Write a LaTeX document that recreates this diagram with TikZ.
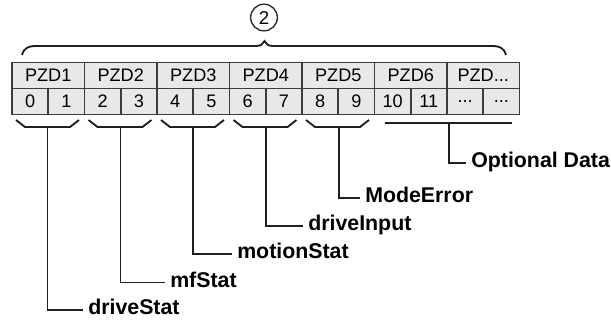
\documentclass[tikz,border=0pt]{standalone}
\usepackage{fontspec}
\setmainfont{Liberation Sans}
\definecolor{cellgray}{RGB}{232,232,232}
\definecolor{framegray}{RGB}{60,60,60}
\tikzset{
	pzdcell/.style={draw=framegray, fill=cellgray, line width=1.3pt, minimum width=54.4pt, minimum height=19.5pt, inner sep=0pt, font=\fontsize{13.6}{15}\selectfont},
	bytecell/.style={pzdcell, minimum width=27.2pt},
	sigtag/.style={anchor=west, inner xsep=3.75pt, inner ysep=0pt, text height=0.9em, text depth=0.18em, font=\fontsize{16}{18}\selectfont\bfseries},
	brk/.style={line width=1.4pt, color=black!88}
}

\begin{document}
\begin{tikzpicture}[x=0.75pt,y=0.75pt,yscale=-1,xscale=1]
		\useasboundingbox (0,0) rectangle (611,322);
		% marker and big brace
		\node [draw=black!85, circle, line width=1pt, minimum size=20pt, inner sep=0pt, font=\fontsize{14}{15}\selectfont] (tag) at (264,17.5) {2};
		\draw [brk] (22,55) .. controls (24,48) and (28,46) .. (36,46) -- (256,46) .. controls (261,46) and (263,44) .. (264.5,41) .. controls (266,44) and (268,46) .. (273,46) -- (492,46) .. controls (500,46) and (504,48) .. (506,55) ;
		% PZD row
		\node [pzdcell] (pzd1) at (48.25,75.5) {PZD1};
		\node [pzdcell] (pzd2) at (120.75,75.5) {PZD2};
		\node [pzdcell] (pzd3) at (193.25,75.5) {PZD3};
		\node [pzdcell] (pzd4) at (265.75,75.5) {PZD4};
		\node [pzdcell] (pzd5) at (338.25,75.5) {PZD5};
		\node [pzdcell] (pzd6) at (410.75,75.5) {PZD6};
		\node [pzdcell] (pzdn) at (483.25,75.5) {PZD...};
		% byte row
		\node [bytecell] (b0) at (30.1,101.5) {0};
		\node [bytecell] (b1) at (66.4,101.5) {1};
		\node [bytecell] (b2) at (102.6,101.5) {2};
		\node [bytecell] (b3) at (138.9,101.5) {3};
		\node [bytecell] (b4) at (175.1,101.5) {4};
		\node [bytecell] (b5) at (211.4,101.5) {5};
		\node [bytecell] (b6) at (247.6,101.5) {6};
		\node [bytecell] (b7) at (283.9,101.5) {7};
		\node [bytecell] (b8) at (320.1,101.5) {8};
		\node [bytecell] (b9) at (356.4,101.5) {9};
		\node [bytecell] (b10) at (392.6,101.5) {10};
		\node [bytecell] (b11) at (428.9,101.5) {11};
		\node [bytecell] (b12) at (465.1,101.5) {...};
		\node [bytecell] (b13) at (501.4,101.5) {...};
		% small braces
		\draw [brk] (16,120) -- (25,127) -- (70,127) -- (79,120) ;
		\draw [brk] (88.5,120) -- (97.5,127) -- (142.5,127) -- (151.5,120) ;
		\draw [brk] (161,120) -- (170,127) -- (215,127) -- (224,120) ;
		\draw [brk] (233.5,120) -- (242.5,127) -- (287.5,127) -- (296.5,120) ;
		\draw [brk] (306,120) -- (315,127) -- (360,127) -- (369,120) ;
		\draw [brk] (385,123) -- (512,123) ;
		\coordinate (s1) at (47.5,127);
		\coordinate (s2) at (120.5,127);
		\coordinate (s3) at (193,127);
		\coordinate (s4) at (266,127);
		\coordinate (s5) at (339,127);
		\coordinate (s6) at (449,123);
		% signal names
		\node [sigtag] (drivestat) at (83,310) {driveStat};
		\node [sigtag] (mfstat) at (165,282.5) {mfStat};
		\node [sigtag] (motionstat) at (232,254) {motionStat};
		\node [sigtag] (driveinput) at (303,226) {driveInput};
		\node [sigtag] (modeerror) at (360,198) {ModeError};
		\node [sigtag] (optdata) at (466,163) {Optional Data};
		\draw [brk] (s1) |- (drivestat.west) ;
		\draw [brk] (s2) |- (mfstat.west) ;
		\draw [brk] (s3) |- (motionstat.west) ;
		\draw [brk] (s4) |- (driveinput.west) ;
		\draw [brk] (s5) |- (modeerror.west) ;
		\draw [brk] (s6) |- (optdata.west) ;
\end{tikzpicture}
\end{document}
